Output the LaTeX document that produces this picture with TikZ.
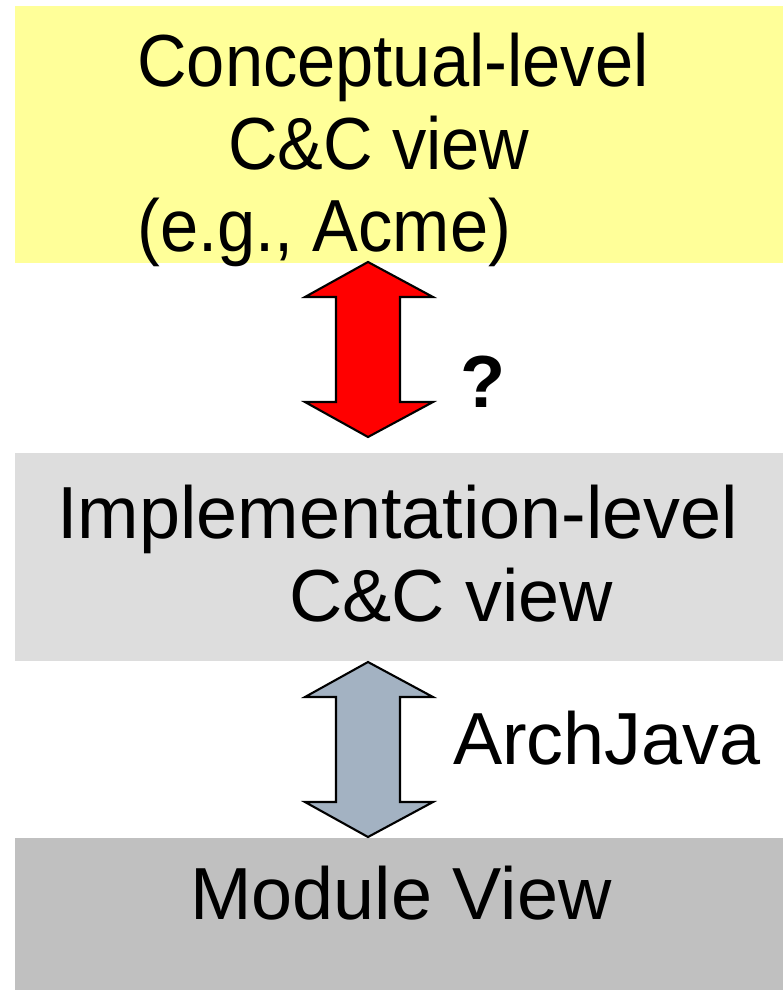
\documentclass[tikz,border=0pt]{standalone}
\usepackage{fontspec}
\setmainfont{Liberation Sans}
\newfontfamily\narrowsans[FakeStretch=0.93]{Liberation Sans}
\definecolor{paleyellow}{HTML}{FFFF99}
\definecolor{lightgrey}{HTML}{DDDDDD}
\definecolor{midgrey}{HTML}{C0C0C0}
\definecolor{slategrey}{HTML}{A3B2C2}
\begin{document}
\begin{tikzpicture}[x=0.02cm,y=-0.02cm,
  txt/.style={font=\fontsize{42}{47}\selectfont, inner sep=0pt, align=left, anchor=north west},
  arr/.style={draw=black, line width=1.2pt, line join=miter}]
\useasboundingbox (0,0) rectangle (783,991);
\fill [paleyellow] (15,6) rectangle (783,263);
\fill [lightgrey] (15,453) rectangle (783,661);
\fill [midgrey] (15,838) rectangle (783,990);

\node [txt, font=\fontsize{42}{47}\narrowsans] (concept) at (137,33) {Conceptual-level\\\hspace{1.82cm}C\&C view\\(e.g., Acme)};
\node [txt] (impl) at (57,485) {Implementation-level\\\hspace{4.64cm}C\&C view};
\node [txt, anchor=center] (module) at (401,893) {Module View};

\coordinate (A) at (368,262);
\coordinate (B) at (368,437);
\coordinate (C) at (368,662);
\coordinate (D) at (368,837);

\draw [arr, fill=red]
(A)--(433,297)--(400,297)--(400,402)--(433,402)--(B)--(305,402)--(336,402)--(336,297)--(305,297)--cycle;
\draw [arr, fill=slategrey]
(C)--(433,697)--(400,697)--(400,802)--(433,802)--(D)--(305,802)--(336,802)--(336,697)--(305,697)--cycle;

\node [font=\fontsize{42}{47}\selectfont\bfseries] (q) at (483,382) {?};
\node [font=\fontsize{42}{47}\selectfont] (aj) at (607,738) {ArchJava};
\end{tikzpicture}
\end{document}
